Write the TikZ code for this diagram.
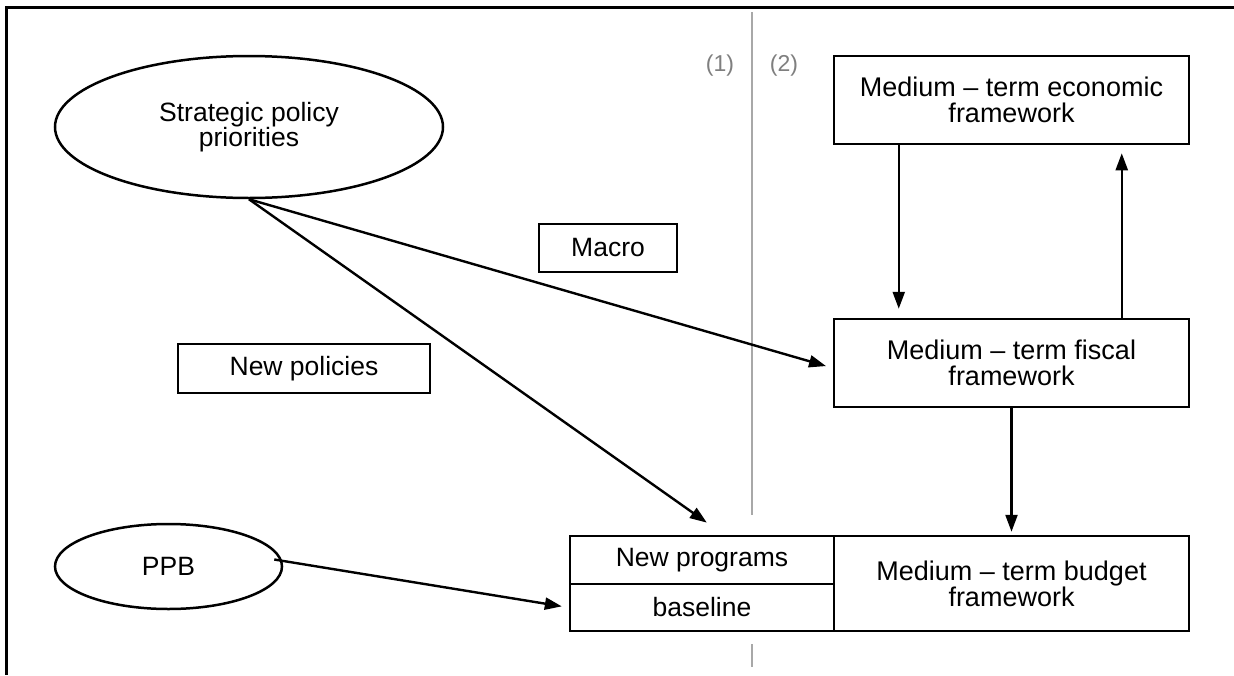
\documentclass[tikz,border=0pt]{standalone}
\usepackage{fontspec}
\setmainfont{Liberation Sans}
\usetikzlibrary{shapes.geometric,arrows.meta,calc}
\newcommand\fsleft{\fontsize{26.5}{23}\selectfont}
\newcommand\fsbox{\fontsize{27}{26}\selectfont}
\newcommand\fslab{\fontsize{23}{24}\selectfont}
\definecolor{divgray}{HTML}{A8A8A8}
\definecolor{labgray}{HTML}{7F7F7F}
\begin{document}
\begin{tikzpicture}[x=1pt,y=-1pt,
  box/.style={draw, line width=2.5pt, inner sep=0pt, align=center, font=\fsbox},
  smallbox/.style={draw, line width=2.5pt, inner sep=0pt, align=center, font=\fsleft},
  oval/.style={draw, ellipse, line width=2.5pt, inner sep=0pt, align=center, font=\fsleft},
  arr/.style={line width=2.4pt, -{Triangle[length=17pt,width=12pt]}},
  divider/.style={draw=divgray, line width=2.4pt},
  lab/.style={text=labgray, font=\fslab, inner sep=0pt}
]
\useasboundingbox (0,0) rectangle (1234,675);
\fill[white] (0,0) rectangle (1234,675);

% frame
\draw[line width=3pt] (1234,7) -- (6,7) -- (6,675);

% divider
\draw[divider] (752,12) -- (752,515);
\draw[divider] (752,644) -- (752,667);
\node[lab] (lab1) at (720,66) {(1)};
\node[lab] (lab2) at (784,66) {(2)};

% nodes
\node[oval, minimum width=388pt, minimum height=142pt] (strat) at (249,127) {Strategic policy\\priorities};
\node[smallbox, minimum width=138pt, minimum height=48pt] (macro) at (608,248) {Macro};
\node[smallbox, minimum width=252pt, minimum height=49pt] (newpol) at (304,368.5) {New policies};
\node[oval, minimum width=227pt, minimum height=85pt] (ppb) at (168.5,566.5) {PPB};

\node[box, minimum width=355pt, minimum height=88pt] (econ) at (1011.5,100) {Medium -- term economic\\framework};
\node[box, minimum width=355pt, minimum height=88pt] (fisc) at (1011.5,363) {Medium -- term fiscal\\framework};
\node[box, minimum width=355pt, minimum height=95pt] (budget) at (1011.5,583.5) {Medium -- term budget\\framework};
\node[smallbox, minimum width=264pt, minimum height=48pt] (newprog) at (702,560) {New programs};
\node[smallbox, minimum width=264pt, minimum height=47pt] (base) at (702,607.5) {baseline};

% connectors
\draw[arr, shorten >=9pt] ($(econ.south west)+(66,0)$) -- ($(fisc.north west)+(66,0)$);
\draw[arr, shorten >=8pt] ($(fisc.north west)+(289,0)$) -- ($(econ.south west)+(289,0)$);
\draw[arr, shorten >=3pt] (fisc.south) -- (budget.north);
\draw[arr, shorten >=7pt] (strat.south) -- ($(fisc.west)+(0,5)$);
\draw[arr, shorten >=21pt] (strat.south) -- ($(newprog.north)+(22,0)$);
\draw[arr, shorten >=7pt] ($(ppb.east)+(-9,-7)$) -- (base.west);
\end{tikzpicture}
\end{document}
